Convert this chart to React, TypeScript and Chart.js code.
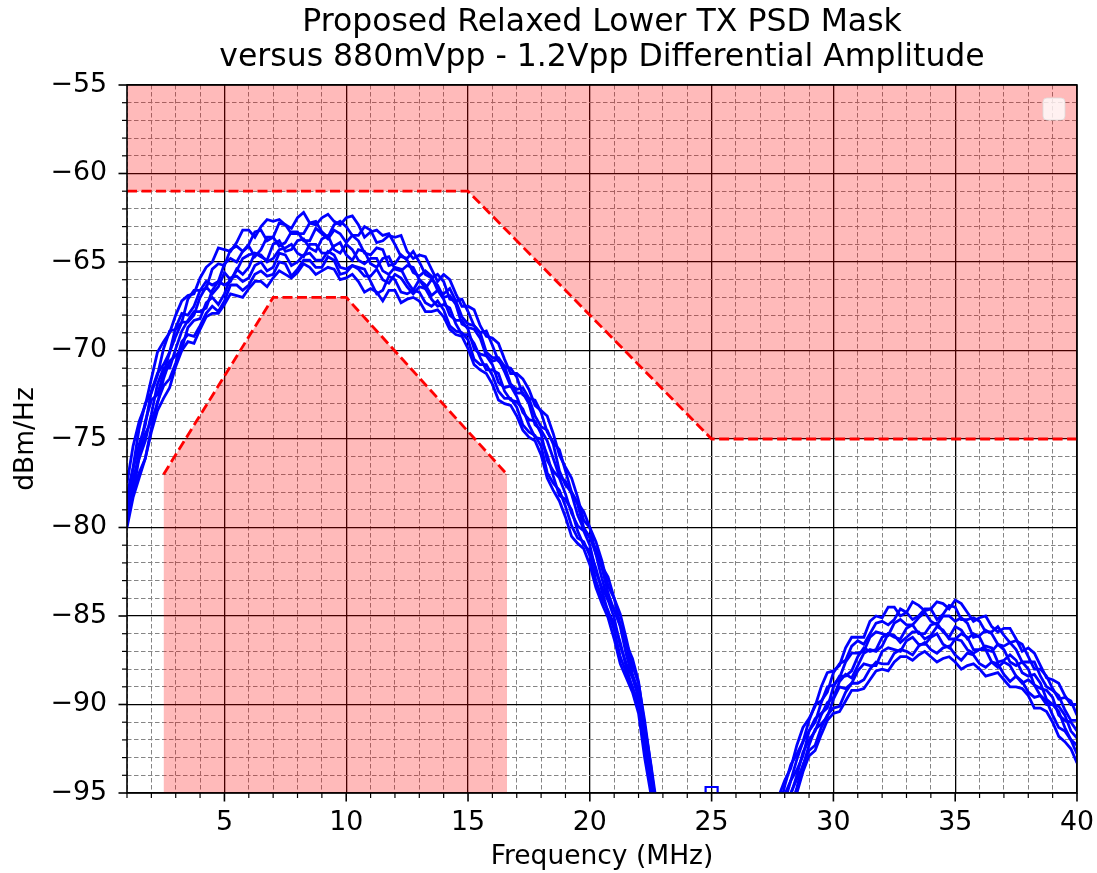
import React, { useEffect, useRef } from 'react';
import { Chart, registerables } from 'chart.js';

Chart.register(...registerables);

const FONT = "'DejaVu Sans', 'Liberation Sans', sans-serif";

const titleLines = ['Proposed Relaxed Lower TX PSD Mask', 'versus 880mVpp - 1.2Vpp Differential Amplitude'];
const xTitle = 'Frequency (MHz)';
const yTitle = 'dBm/Hz';

// frequency grids (MHz)
const freqMain = [1, 1.25, 1.5, 1.75, 2, 2.25, 2.5, 2.75, 3, 3.25, 3.5, 3.75, 4, 4.25, 4.5, 4.75, 5, 5.25, 5.5, 5.75, 6, 6.25, 6.5, 6.75, 7, 7.25, 7.5, 7.75, 8, 8.25, 8.5, 8.75, 9, 9.25, 9.5, 9.75, 10, 10.25, 10.5, 10.75, 11, 11.25, 11.5, 11.75, 12, 12.25, 12.5, 12.75, 13, 13.25, 13.5, 13.75, 14, 14.25, 14.5, 14.75, 15, 15.25, 15.5, 15.75, 16, 16.25, 16.5, 16.75, 17, 17.25, 17.5, 17.75, 18, 18.25, 18.5, 18.75, 19, 19.25, 19.5, 19.75, 20, 20.25, 20.5, 20.75, 21, 21.25, 21.5, 21.75, 22, 22.25, 22.5, 22.75, 23];
const freqSide = [27.5, 27.75, 28, 28.25, 28.5, 28.75, 29, 29.25, 29.5, 29.75, 30, 30.25, 30.5, 30.75, 31, 31.25, 31.5, 31.75, 32, 32.25, 32.5, 32.75, 33, 33.25, 33.5, 33.75, 34, 34.25, 34.5, 34.75, 35, 35.25, 35.5, 35.75, 36, 36.25, 36.5, 36.75, 37, 37.25, 37.5, 37.75, 38, 38.25, 38.5, 38.75, 39, 39.25, 39.5, 39.75, 40];

// measured PSD traces, main lobe (dBm/Hz)
const traceAMain = [-77.5, -75.4, -74.0, -73.1, -71.6, -70.1, -69.5, -69.0, -68.0, -67.2, -66.9, -66.8, -65.9, -65.3, -65.0, -64.2, -64.3, -64.4, -63.9, -63.2, -63.2, -63.6, -63.0, -62.6, -62.7, -62.6, -62.9, -63.1, -62.5, -62.2, -62.8, -62.9, -62.5, -62.3, -62.7, -62.9, -62.5, -62.4, -62.9, -63.6, -63.3, -63.2, -63.5, -63.4, -64.0, -64.7, -64.8, -64.4, -65.0, -65.7, -65.9, -65.7, -66.1, -67.1, -67.2, -67.1, -67.8, -68.6, -69.0, -68.9, -69.7, -70.6, -70.9, -71.0, -71.5, -72.5, -72.7, -72.8, -73.5, -74.6, -75.2, -75.6, -76.8, -78.0, -78.6, -79.1, -80.0, -81.5, -82.2, -82.8, -84.0, -85.5, -86.6, -87.4, -88.7, -91.2, -93.3, -95.7, -98.5];
const traceBMain = [-78.2, -76.6, -74.4, -73.0, -72.4, -71.4, -69.9, -68.9, -68.8, -68.4, -67.1, -66.6, -66.6, -66.5, -65.4, -65.1, -65.2, -64.3, -64.1, -64.4, -64.0, -63.3, -63.2, -63.8, -63.6, -62.8, -62.9, -63.4, -63.4, -63.4, -62.8, -62.7, -63.3, -63.6, -62.9, -62.7, -63.0, -63.5, -63.5, -63.0, -63.2, -63.9, -63.8, -63.5, -63.6, -63.5, -64.4, -64.8, -64.6, -64.7, -65.4, -66.1, -65.7, -66.0, -66.8, -67.5, -67.5, -67.7, -68.6, -69.2, -69.3, -69.6, -70.5, -71.3, -71.3, -71.6, -72.2, -73.1, -73.4, -73.7, -74.7, -75.9, -76.6, -77.2, -78.3, -79.6, -80.0, -80.8, -81.9, -83.3, -84.0, -84.9, -86.3, -87.8, -88.8, -90.9, -93.4, -96.1, -98.3];
const traceCMain = [-78.4, -76.7, -75.3, -74.2, -72.3, -71.3, -70.8, -70.1, -68.7, -67.9, -68.0, -67.5, -66.6, -66.1, -66.3, -66.1, -65.1, -64.8, -65.0, -64.4, -64.1, -64.7, -64.3, -63.6, -63.6, -64.1, -63.9, -63.3, -63.3, -63.8, -63.8, -63.1, -63.4, -63.7, -63.2, -63.4, -63.9, -63.5, -63.8, -64.5, -64.6, -64.2, -64.3, -65.2, -65.1, -64.6, -64.9, -65.6, -65.8, -65.5, -65.8, -66.6, -66.8, -66.5, -67.2, -68.1, -68.5, -68.6, -69.0, -70.1, -70.4, -70.4, -70.9, -71.9, -72.2, -72.1, -72.7, -73.7, -74.3, -74.5, -75.3, -76.8, -77.6, -78.0, -78.7, -80.0, -80.6, -81.2, -82.3, -83.7, -84.7, -85.5, -86.6, -88.3, -89.3, -91.3, -93.6, -96.3, -98.6];
const traceDMain = [-79.0, -77.6, -75.7, -74.0, -72.8, -72.5, -71.3, -70.1, -69.2, -68.4, -68.4, -68.0, -67.0, -66.4, -66.8, -66.4, -65.6, -66.0, -65.5, -64.8, -64.6, -64.5, -64.7, -64.9, -64.0, -63.8, -64.4, -64.3, -63.8, -63.7, -64.2, -64.4, -63.7, -63.5, -64.3, -64.5, -64.0, -64.3, -64.9, -65.1, -64.8, -64.8, -65.5, -65.7, -65.3, -65.4, -66.1, -66.6, -66.0, -66.3, -66.9, -66.6, -67.1, -68.0, -68.3, -68.3, -68.8, -69.9, -70.2, -70.3, -70.8, -71.8, -72.1, -72.0, -72.6, -73.5, -73.9, -74.0, -74.7, -76.2, -76.8, -77.2, -78.1, -79.2, -79.9, -80.2, -81.0, -82.5, -83.4, -84.1, -85.1, -86.7, -87.7, -88.5, -89.6, -92.1, -94.2, -96.5, -99.2];
const traceEMain = [-78.8, -77.2, -76.1, -75.1, -73.6, -71.9, -71.0, -71.0, -69.9, -68.9, -68.3, -67.8, -67.8, -67.6, -66.6, -66.1, -66.3, -66.1, -65.4, -65.7, -65.3, -64.5, -64.6, -65.0, -64.8, -64.3, -64.2, -64.0, -64.5, -64.7, -64.0, -64.0, -64.5, -64.5, -64.1, -63.9, -64.6, -64.9, -64.3, -64.4, -65.1, -65.3, -64.8, -64.7, -65.4, -65.5, -65.2, -65.3, -66.0, -66.5, -66.0, -66.3, -67.0, -66.9, -67.4, -68.5, -68.7, -68.8, -69.3, -70.3, -70.6, -70.5, -71.2, -72.0, -72.4, -72.4, -73.0, -74.2, -74.5, -75.1, -76.1, -77.1, -77.4, -78.1, -79.3, -80.1, -80.5, -81.5, -82.9, -84.1, -84.6, -85.6, -87.2, -88.4, -89.2, -91.3, -93.8, -96.5, -98.8];
const traceFMain = [-79.6, -78.1, -76.0, -74.7, -74.0, -73.0, -71.6, -70.6, -70.3, -69.9, -68.7, -68.3, -68.2, -67.3, -67.0, -67.4, -66.8, -65.9, -65.8, -66.1, -65.9, -65.2, -65.0, -65.5, -65.3, -64.5, -64.6, -65.2, -65.0, -64.6, -64.5, -64.9, -64.9, -64.4, -64.6, -65.3, -65.4, -65.2, -65.3, -65.4, -66.1, -66.8, -66.6, -65.8, -66.0, -66.7, -66.8, -66.6, -66.7, -67.3, -67.5, -67.2, -67.7, -68.6, -68.9, -69.0, -69.4, -70.5, -70.8, -70.8, -71.4, -72.3, -72.7, -72.7, -73.2, -74.2, -74.6, -74.8, -75.4, -76.9, -77.5, -77.9, -78.8, -79.9, -80.6, -80.8, -81.6, -83.0, -84.0, -84.7, -85.8, -87.3, -88.2, -89.0, -90.1, -92.6, -94.6, -96.9, -99.5];
const traceGMain = [-79.5, -78.0, -76.9, -76.1, -74.4, -72.9, -72.0, -71.6, -70.7, -69.5, -69.1, -69.2, -68.6, -67.9, -67.5, -67.8, -67.2, -66.3, -66.3, -66.6, -66.3, -65.7, -65.5, -65.8, -65.7, -65.0, -65.1, -65.8, -65.4, -64.9, -64.9, -65.3, -65.3, -64.7, -64.9, -65.7, -65.6, -65.2, -65.4, -65.8, -65.8, -65.4, -66.0, -66.2, -65.7, -65.9, -66.4, -66.8, -66.4, -66.5, -67.1, -67.5, -67.4, -67.6, -68.5, -69.1, -69.1, -69.6, -70.4, -71.1, -71.1, -71.3, -72.3, -72.8, -72.9, -73.3, -74.2, -74.9, -75.0, -75.9, -77.1, -78.2, -78.4, -79.0, -80.2, -81.0, -81.3, -82.3, -83.6, -84.8, -85.4, -86.5, -87.9, -89.1, -89.8, -91.9, -94.4, -97.1, -99.3];
const traceHMain = [-80.0, -78.3, -77.2, -76.1, -74.6, -73.4, -72.7, -72.1, -70.9, -70.0, -69.5, -69.6, -68.8, -68.1, -67.9, -67.9, -67.4, -66.8, -66.9, -67.0, -66.5, -66.1, -66.1, -66.4, -65.9, -65.5, -65.7, -65.9, -65.6, -65.1, -65.3, -65.7, -65.5, -65.3, -65.4, -66.0, -65.9, -65.7, -66.1, -66.7, -66.5, -66.7, -67.2, -66.6, -66.6, -67.3, -67.1, -67.0, -67.2, -67.8, -67.8, -67.7, -68.1, -68.8, -69.1, -69.2, -69.9, -70.8, -71.1, -71.3, -71.9, -72.8, -73.0, -73.1, -73.7, -74.5, -74.9, -75.1, -75.9, -77.2, -77.9, -78.5, -79.4, -80.5, -80.9, -81.2, -82.1, -83.4, -84.3, -85.1, -86.3, -87.7, -88.5, -89.3, -90.5, -93.0, -95.0, -97.3, -100.0];

// measured PSD traces, side lobe (dBm/Hz)
const traceASide = [-96.5, -95.2, -94.3, -93.6, -92.3, -91.3, -90.8, -90.1, -89.0, -88.2, -88.1, -87.8, -86.8, -86.2, -86.2, -86.2, -85.3, -85.0, -85.1, -84.5, -84.5, -85.0, -84.8, -84.2, -84.4, -84.7, -84.6, -84.2, -84.3, -84.6, -84.1, -84.3, -84.8, -85.3, -85.1, -85.0, -85.6, -85.9, -85.7, -85.7, -86.3, -87.0, -86.8, -87.1, -87.8, -88.5, -88.6, -88.8, -89.5, -90.0, -90.0];
const traceBSide = [-96.9, -96.1, -94.6, -93.4, -92.8, -92.1, -90.9, -90.0, -89.8, -89.3, -88.2, -87.7, -87.5, -86.7, -86.4, -86.6, -86.0, -85.4, -85.3, -85.5, -85.2, -84.6, -84.8, -85.2, -85.0, -84.6, -84.6, -85.2, -84.9, -84.4, -84.5, -85.2, -85.2, -85.1, -85.3, -85.9, -85.9, -85.6, -86.1, -86.5, -86.4, -86.6, -87.3, -88.0, -88.0, -88.4, -89.1, -89.7, -89.6, -89.8, -90.6];
const traceCSide = [-97.3, -95.9, -95.1, -94.3, -93.1, -92.1, -91.5, -91.0, -89.9, -89.0, -88.9, -88.5, -87.6, -87.1, -87.1, -87.0, -86.2, -85.9, -86.0, -86.1, -85.4, -85.2, -85.5, -85.5, -85.1, -84.8, -85.3, -85.5, -85.0, -85.0, -85.3, -85.1, -85.4, -86.2, -86.1, -85.8, -86.0, -86.6, -86.7, -86.5, -86.9, -87.6, -87.6, -87.6, -88.4, -89.0, -89.2, -89.5, -90.3, -90.9, -90.9];
const traceDSide = [-97.6, -96.8, -95.5, -94.3, -93.7, -92.9, -91.5, -90.8, -90.5, -90.2, -89.0, -88.4, -88.4, -88.1, -87.3, -86.8, -87.0, -86.9, -86.2, -86.0, -86.2, -86.3, -85.7, -85.5, -86.0, -86.0, -85.5, -85.4, -85.9, -86.2, -85.6, -85.8, -86.3, -86.0, -86.2, -86.9, -87.0, -86.6, -86.9, -87.6, -87.8, -87.6, -88.0, -88.9, -89.1, -89.2, -89.6, -90.6, -90.9, -91.0, -91.5];
const traceESide = [-97.9, -96.6, -95.6, -95.1, -94.0, -92.7, -92.0, -91.5, -90.6, -89.9, -89.6, -88.7, -88.3, -88.5, -87.8, -87.1, -86.9, -87.0, -86.7, -86.0, -86.1, -86.5, -86.2, -85.9, -85.9, -86.3, -86.1, -85.6, -85.8, -86.3, -86.3, -86.0, -86.2, -86.9, -86.9, -86.7, -86.8, -87.6, -87.5, -87.2, -87.5, -88.2, -88.4, -88.3, -88.8, -89.7, -90.0, -90.1, -90.6, -91.5, -91.9];
const traceFSide = [-98.2, -97.5, -96.1, -95.0, -94.2, -93.5, -92.3, -91.4, -91.1, -90.7, -89.7, -89.0, -89.1, -88.8, -88.1, -87.7, -87.8, -87.8, -87.0, -86.8, -86.9, -87.0, -86.4, -86.2, -86.6, -86.6, -86.2, -86.0, -86.6, -86.8, -86.3, -86.4, -86.9, -87.1, -86.9, -86.9, -87.6, -87.9, -87.6, -87.8, -88.4, -88.8, -88.6, -88.9, -89.5, -90.0, -90.0, -90.4, -91.3, -92.0, -92.3];
const traceGSide = [-98.6, -97.4, -96.5, -95.8, -94.7, -93.4, -92.6, -92.3, -91.3, -90.6, -90.2, -90.1, -89.3, -88.8, -88.8, -88.6, -88.0, -87.6, -87.7, -87.7, -87.1, -86.9, -87.0, -87.2, -86.7, -86.5, -86.9, -87.1, -86.8, -86.7, -87.2, -87.5, -87.1, -87.2, -87.7, -87.9, -87.6, -87.7, -88.3, -88.7, -88.4, -88.7, -89.3, -89.6, -89.5, -89.8, -90.6, -91.3, -91.5, -92.0, -92.8];
const traceHSide = [-99.0, -97.8, -97.0, -96.2, -95.0, -93.8, -92.9, -92.6, -91.7, -90.9, -90.5, -90.4, -89.8, -89.2, -89.2, -89.1, -88.6, -88.1, -88.0, -88.1, -87.6, -87.3, -87.3, -87.5, -87.2, -87.0, -87.3, -87.6, -87.4, -87.3, -87.6, -88.0, -87.8, -87.7, -88.0, -88.4, -88.3, -88.2, -88.6, -89.0, -89.0, -89.1, -89.5, -90.2, -90.2, -90.4, -91.0, -91.8, -92.1, -92.5, -93.3];

const mainTraces = [traceAMain, traceBMain, traceCMain, traceDMain, traceEMain, traceFMain, traceGMain, traceHMain];
const sideTraces = [traceASide, traceBSide, traceCSide, traceDSide, traceESide, traceFSide, traceGSide, traceHSide];

// masks
const upperMaskX = [1, 15, 25, 40];
const upperMaskY = [-61, -61, -75, -75];
const lowerMaskX = [2.5, 7, 10, 16.6];
const lowerMaskY = [-77, -67, -67, -77];

// single marker
const markerX = [25];
const markerY = [-95];

const xMin = 1;
const xMax = 40;
const yMin = -95;
const yMax = -55;

const fmt = (v: number) => (v < 0 ? '\u2212' + Math.abs(v) : String(v));
const isMajor = (v: number) => Math.abs(v % 5) < 1e-9;

const decor = {
  id: 'decor',
  beforeDraw(chart: any) {
    const { ctx, width, height } = chart;
    ctx.save();
    ctx.fillStyle = '#ffffff';
    ctx.fillRect(0, 0, width, height);
    ctx.restore();
  },
  afterDatasetsDraw(chart: any) {
    const { ctx, chartArea } = chart;
    const { left, right, top, bottom } = chartArea;
    const xs = chart.scales.x;
    const ys = chart.scales.y;
    ctx.save();
    ctx.strokeStyle = '#000';
    xs.ticks.forEach((t: any) => {
      const px = xs.getPixelForValue(t.value);
      const major = isMajor(t.value);
      ctx.lineWidth = major ? 1.6 : 1.2;
      ctx.beginPath();
      ctx.moveTo(px, bottom);
      ctx.lineTo(px, bottom + (major ? 8.5 : 5));
      ctx.stroke();
    });
    ys.ticks.forEach((t: any) => {
      const py = ys.getPixelForValue(t.value);
      const major = isMajor(t.value);
      ctx.lineWidth = major ? 1.6 : 1.2;
      ctx.beginPath();
      ctx.moveTo(left, py);
      ctx.lineTo(left - (major ? 8.5 : 5), py);
      ctx.stroke();
    });
    ctx.lineWidth = 1.6;
    ctx.strokeRect(left, top, right - left, bottom - top);
    // empty legend frame
    const lx = right - 34;
    const ly = top + 13;
    ctx.beginPath();
    if (ctx.roundRect) ctx.roundRect(lx, ly, 22, 22, 4);
    else ctx.rect(lx, ly, 22, 22);
    ctx.fillStyle = 'rgba(255,255,255,0.8)';
    ctx.fill();
    ctx.lineWidth = 1;
    ctx.strokeStyle = 'rgba(220,220,220,0.8)';
    ctx.stroke();
    ctx.restore();
  },
};

export default function App() {
  const ref = useRef<HTMLCanvasElement | null>(null);

  useEffect(() => {
    if (!ref.current) return;
    const traceDatasets: any[] = [];
    const addTrace = (xs: number[], ys: number[]) => {
      traceDatasets.push({
        type: 'line',
        data: xs.map((x, i) => ({ x, y: ys[i] })),
        borderColor: '#0000ff',
        borderWidth: 2.8,
        pointRadius: 0,
        fill: false,
        tension: 0,
        clip: 0,
        order: 1,
      });
    };
    mainTraces.forEach((ys) => addTrace(freqMain, ys));
    sideTraces.forEach((ys) => addTrace(freqSide, ys));

    const chart = new Chart(ref.current, {
      type: 'line',
      data: {
        datasets: [
          {
            data: upperMaskX.map((x, i) => ({ x, y: upperMaskY[i] })),
            borderColor: '#ff0000',
            borderWidth: 2.8,
            borderDash: [10, 4.5],
            backgroundColor: 'rgba(255,0,0,0.27)',
            fill: 'end',
            pointRadius: 0,
            tension: 0,
            clip: 0,
            order: 5,
          },
          {
            data: lowerMaskX.map((x, i) => ({ x, y: lowerMaskY[i] })),
            borderColor: '#ff0000',
            borderWidth: 2.8,
            borderDash: [10, 4.5],
            backgroundColor: 'rgba(255,0,0,0.27)',
            fill: 'start',
            pointRadius: 0,
            tension: 0,
            clip: 0,
            order: 5,
          },
          ...traceDatasets,
          {
            data: markerX.map((x, i) => ({ x, y: markerY[i] })),
            showLine: false,
            pointStyle: 'rect',
            pointRadius: 8.5,
            pointBorderWidth: 2.2,
            pointBorderColor: '#0000ff',
            pointBackgroundColor: 'rgba(0,0,0,0)',
            clip: 0,
            order: 0,
          },
        ] as any,
      },
      options: {
        responsive: false,
        animation: false,
        devicePixelRatio: 1,
        events: [],
        layout: { padding: { left: 0, right: 20, top: 0, bottom: 0 } },
        plugins: {
          legend: { display: false },
          tooltip: { enabled: false },
          title: {
            display: true,
            fullSize: false,
            text: titleLines,
            color: '#000',
            font: { family: FONT, size: 31.5, weight: 'normal', lineHeight: '35px' },
            padding: { top: 5.5, bottom: 9.5 },
          },
        },
        scales: {
          x: {
            type: 'linear',
            min: xMin,
            max: xMax,
            afterFit: (s: any) => {
              s.height = 80;
              s.paddingLeft = 0;
              s.paddingRight = 0;
            },
            ticks: {
              stepSize: 1,
              autoSkip: false,
              maxRotation: 0,
              minRotation: 0,
              padding: 13.6,
              color: '#000',
              font: { family: FONT, size: 26.8 },
              callback: (v: any) => (isMajor(Number(v)) ? fmt(Number(v)) : ''),
            },
            grid: {
              drawTicks: false,
              color: (c: any) => (c.tick && isMajor(c.tick.value) ? '#000000' : '#858585'),
              lineWidth: (c: any) => (c.tick && isMajor(c.tick.value) ? 1.3 : 1.0),
            },
            border: {
              display: false,
              dash: (c: any) => (c.tick && isMajor(c.tick.value) ? [] : [4.5, 2.5]),
            },
            title: {
              display: true,
              text: xTitle,
              color: '#000',
              font: { family: FONT, size: 26.5, lineHeight: 1.2 },
              padding: { top: 0, bottom: 0 },
            },
          },
          y: {
            type: 'linear',
            min: yMin,
            max: yMax,
            afterFit: (s: any) => {
              s.width = 127;
              s.paddingTop = 0;
              s.paddingBottom = 0;
            },
            ticks: {
              stepSize: 1,
              autoSkip: false,
              padding: 20,
              color: '#000',
              font: { family: FONT, size: 26.8 },
              callback: (v: any) => (isMajor(Number(v)) ? fmt(Number(v)) : ''),
            },
            grid: {
              drawTicks: false,
              color: (c: any) => (c.tick && isMajor(c.tick.value) ? '#000000' : '#858585'),
              lineWidth: (c: any) => (c.tick && isMajor(c.tick.value) ? 1.3 : 1.0),
            },
            border: {
              display: false,
              dash: (c: any) => (c.tick && isMajor(c.tick.value) ? [] : [4.5, 2.5]),
            },
            title: {
              display: true,
              text: yTitle,
              color: '#000',
              font: { family: FONT, size: 26.5, lineHeight: 1.2 },
              padding: { top: 10, bottom: 0 },
            },
          },
        },
      } as any,
      plugins: [decor],
    });
    return () => chart.destroy();
  }, []);

  return (
    <div style={{ position: 'absolute', left: 0, top: 0, width: 1097, height: 873, background: '#fff' }}>
      <canvas ref={ref} width={1097} height={873} style={{ display: 'block' }} />
    </div>
  );
}
